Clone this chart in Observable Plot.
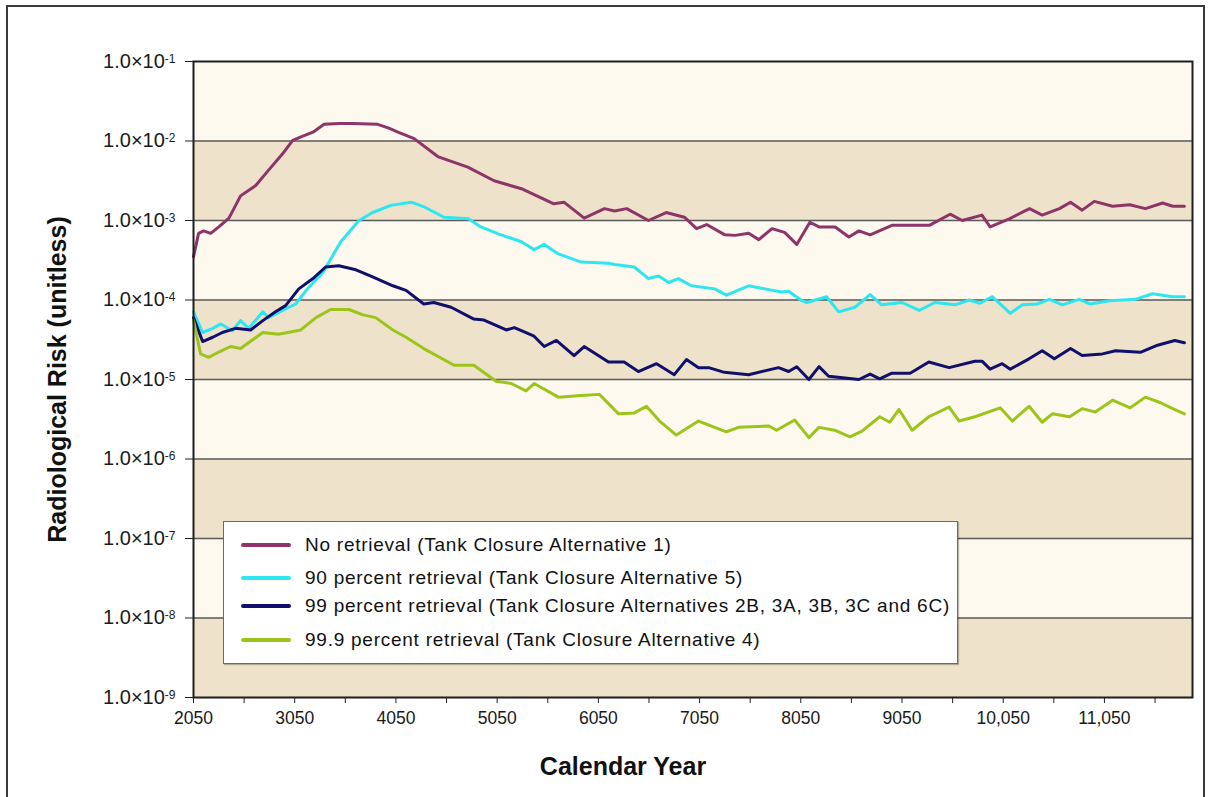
<!DOCTYPE html>
<html>
<head>
<meta charset="utf-8">
<script src="https://cdn.jsdelivr.net/npm/d3@7"></script>
<script src="https://cdn.jsdelivr.net/npm/@observablehq/plot@0.6"></script>
<style>
  html, body { margin: 0; padding: 0; background: #fff; }
  body { width: 1208px; height: 797px; position: relative; overflow: hidden; font-family: "Liberation Sans", Arial, sans-serif; }
  #chart { position: absolute; left: 0; top: 0; }
  #border { position: absolute; left: 6px; top: 5px; width: 1199px; height: 820px; border: 2px solid #3a3a3a; box-sizing: border-box; pointer-events: none; }
  #legend { position: absolute; left: 223px; top: 521px; width: 735px; height: 143px; background: #fff; border: 1.5px solid #6a6a6a; box-sizing: border-box; box-shadow: 1px 1px 1px rgba(0,0,0,0.25); }
  .item { position: absolute; left: 0; height: 24px; display: flex; align-items: center; font-size: 19px; letter-spacing: 0.75px; color: #111; white-space: nowrap; }
  .swatch { width: 50px; height: 4px; margin-left: 17px; margin-right: 14px; border-radius: 2px; }
</style>
</head>
<body>
<div id="chart"></div>
<div id="legend"></div>
<div id="border"></div>
<script>
// ---- Data ----
const seriesNames = [
  "No retrieval (Tank Closure Alternative 1)",
  "90 percent retrieval (Tank Closure Alternative 5)",
  "99 percent retrieval (Tank Closure Alternatives 2B, 3A, 3B, 3C and 6C)",
  "99.9 percent retrieval (Tank Closure Alternative 4)"
];
const seriesColors = ["#8d3468", "#2ee6f0", "#10106c", "#9cc41a"];

const noRetrievalYears = [2050,2100,2150,2220,2300,2400,2515,2665,2790,2930,3030,3130,3230,3340,3490,3620,3870,3980,4070,4230,4470,4760,5020,5290,5610,5710,5910,6110,6210,6330,6545,6720,6900,7020,7120,7300,7400,7535,7635,7765,7890,8010,8140,8230,8390,8525,8625,8735,8950,9320,9525,9645,9840,9920,10110,10310,10435,10605,10715,10830,10950,11130,11300,11455,11625,11725,11840];
const noRetrievalRisk = [3.5e-4,6.9e-4,7.4e-4,6.9e-4,8.3e-4,1.07e-3,2.04e-3,2.75e-3,4.27e-3,6.9e-3,1.02e-2,1.15e-2,1.29e-2,1.62e-2,1.66e-2,1.66e-2,1.62e-2,1.45e-2,1.29e-2,1.07e-2,6.3e-3,4.7e-3,3.16e-3,2.51e-3,1.62e-3,1.7e-3,1.07e-3,1.41e-3,1.32e-3,1.41e-3,1.0e-3,1.26e-3,1.1e-3,7.9e-4,8.9e-4,6.6e-4,6.5e-4,6.9e-4,5.75e-4,7.9e-4,7.1e-4,5.0e-4,9.5e-4,8.3e-4,8.3e-4,6.2e-4,7.4e-4,6.6e-4,8.7e-4,8.7e-4,1.2e-3,1.0e-3,1.17e-3,8.3e-4,1.05e-3,1.41e-3,1.17e-3,1.41e-3,1.7e-3,1.35e-3,1.74e-3,1.51e-3,1.58e-3,1.41e-3,1.66e-3,1.51e-3,1.51e-3];

const ninetyYears = [2050,2140,2240,2320,2435,2515,2595,2735,2790,2930,3060,3190,3330,3505,3685,3820,4000,4200,4330,4525,4765,4890,5060,5290,5415,5515,5655,5880,6150,6210,6405,6545,6645,6745,6840,6970,7200,7315,7535,7695,7860,7930,8060,8110,8305,8425,8585,8735,8850,9050,9220,9375,9575,9715,9820,9940,10120,10240,10385,10505,10635,10800,10910,11100,11355,11525,11725,11840];
const ninetyRisk = [7.1e-5,3.9e-5,4.4e-5,5.0e-5,4.1e-5,5.5e-5,4.4e-5,7.1e-5,6.0e-5,7.4e-5,8.9e-5,1.45e-4,2.24e-4,5.4e-4,1.0e-3,1.26e-3,1.55e-3,1.7e-3,1.48e-3,1.1e-3,1.05e-3,8.3e-4,6.8e-4,5.4e-4,4.3e-4,5.0e-4,3.8e-4,3.0e-4,2.9e-4,2.8e-4,2.6e-4,1.86e-4,2.0e-4,1.66e-4,1.86e-4,1.51e-4,1.38e-4,1.15e-4,1.51e-4,1.38e-4,1.26e-4,1.29e-4,9.8e-5,9.3e-5,1.1e-4,7.1e-5,8.1e-5,1.17e-4,8.7e-5,9.3e-5,7.4e-5,9.3e-5,8.7e-5,1.0e-4,9.1e-5,1.1e-4,6.8e-5,8.7e-5,8.9e-5,1.02e-4,8.7e-5,1.02e-4,8.9e-5,9.8e-5,1.02e-4,1.2e-4,1.1e-4,1.1e-4];

const ninetyNineYears = [2050,2140,2240,2335,2465,2615,2735,2860,2960,3090,3230,3355,3485,3655,3820,4020,4150,4325,4425,4595,4820,4920,5140,5220,5415,5515,5635,5810,5910,6150,6305,6445,6625,6800,6920,7040,7140,7295,7535,7830,7930,8010,8130,8230,8325,8625,8735,8830,8950,9130,9315,9515,9770,9840,9920,10040,10120,10305,10435,10555,10715,10830,11030,11160,11405,11575,11745,11840];
const ninetyNineRisk = [6.0e-5,3.0e-5,3.4e-5,3.9e-5,4.4e-5,4.2e-5,5.5e-5,7.1e-5,8.5e-5,1.38e-4,1.86e-4,2.6e-4,2.7e-4,2.4e-4,1.95e-4,1.51e-4,1.32e-4,8.9e-5,9.3e-5,8.1e-5,5.75e-5,5.6e-5,4.2e-5,4.5e-5,3.5e-5,2.6e-5,3.1e-5,2.0e-5,2.6e-5,1.66e-5,1.66e-5,1.26e-5,1.58e-5,1.15e-5,1.78e-5,1.41e-5,1.41e-5,1.23e-5,1.15e-5,1.41e-5,1.26e-5,1.45e-5,1.0e-5,1.45e-5,1.1e-5,1.0e-5,1.17e-5,1.02e-5,1.2e-5,1.2e-5,1.66e-5,1.41e-5,1.7e-5,1.7e-5,1.35e-5,1.58e-5,1.35e-5,1.82e-5,2.3e-5,1.82e-5,2.45e-5,2.0e-5,2.1e-5,2.3e-5,2.2e-5,2.7e-5,3.1e-5,2.9e-5];

const ninetyNinePointNineYears = [2050,2120,2200,2295,2415,2515,2735,2890,3110,3260,3405,3585,3725,3850,4020,4150,4325,4625,4820,5040,5190,5335,5415,5655,5880,6060,6250,6405,6525,6655,6820,7040,7315,7435,7735,7810,7990,8130,8230,8385,8535,8655,8830,8930,9020,9150,9315,9515,9615,9770,10020,10140,10305,10435,10535,10705,10830,10960,11130,11305,11455,11605,11725,11840];
const ninetyNinePointNineRisk = [5.5e-5,2.1e-5,1.9e-5,2.2e-5,2.6e-5,2.45e-5,3.9e-5,3.7e-5,4.2e-5,6.0e-5,7.6e-5,7.6e-5,6.5e-5,6.0e-5,4.2e-5,3.4e-5,2.45e-5,1.51e-5,1.51e-5,9.5e-6,8.9e-6,7.2e-6,8.9e-6,6.0e-6,6.3e-6,6.5e-6,3.7e-6,3.8e-6,4.6e-6,3.0e-6,2.0e-6,3.0e-6,2.2e-6,2.5e-6,2.6e-6,2.3e-6,3.1e-6,1.86e-6,2.5e-6,2.3e-6,1.9e-6,2.24e-6,3.4e-6,2.9e-6,4.2e-6,2.3e-6,3.4e-6,4.5e-6,3.0e-6,3.4e-6,4.4e-6,3.0e-6,4.6e-6,2.9e-6,3.7e-6,3.4e-6,4.3e-6,3.9e-6,5.5e-6,4.4e-6,6.0e-6,5.1e-6,4.3e-6,3.7e-6];

const yTicks = [1e-1,1e-2,1e-3,1e-4,1e-5,1e-6,1e-7,1e-8,1e-9];
const xLabelTicks = [2050,3050,4050,5050,6050,7050,8050,9050,10050,11050];
const xMinorTicks = [2550,3550,4550,5550,6550,7550,8550,9550,10550,11550];
const xDomain = [2050, 11920];
const bandColors = ["#fdf9ee", "#eee3ca"];

// ---- Build tables ----
const allYears = [noRetrievalYears, ninetyYears, ninetyNineYears, ninetyNinePointNineYears];
const allRisk = [noRetrievalRisk, ninetyRisk, ninetyNineRisk, ninetyNinePointNineRisk];
const rows = [];
allYears.forEach((ys, i) => ys.forEach((y, j) => rows.push({series: seriesNames[i], year: y, risk: allRisk[i][j]})));
const bands = yTicks.slice(0, -1).map((t, i) => ({top: t, bottom: yTicks[i + 1], fill: bandColors[i % 2]}));

const fmtYear = d => d >= 10000 ? d3.format(",")(d) : String(d);

const chart = Plot.plot({
  width: 1208,
  height: 797,
  marginLeft: 193,
  marginRight: 16,
  marginTop: 61,
  marginBottom: 100,
  style: {fontFamily: "'Liberation Sans', Arial, sans-serif", background: "transparent", color: "#222"},
  x: {domain: xDomain},
  y: {type: "log", domain: [1e-9, 1e-1]},
  color: {domain: seriesNames, range: seriesColors},
  marks: [
    Plot.rect(bands, {x1: xDomain[0], x2: xDomain[1], y1: "bottom", y2: "top", fill: "fill"}),
    Plot.ruleY(yTicks.slice(1, -1), {stroke: "#5a5a5a", strokeWidth: 1.6}),
    Plot.line(rows, {x: "year", y: "risk", z: "series", stroke: "series", strokeWidth: 3, strokeLinejoin: "round", strokeLinecap: "round"}),
    Plot.frame({stroke: "#1e1e1e", strokeWidth: 2}),
    Plot.axisY({ticks: yTicks, tickSize: 8, tickPadding: 10, tickFormat: d => "1.0×10^" + Math.round(Math.log10(d)), label: null, stroke: "#222"}),
    Plot.axisX({ticks: xLabelTicks, tickSize: 6, tickPadding: 8, tickFormat: fmtYear, label: null, stroke: "#222"}),
    Plot.axisX({ticks: xMinorTicks, tickSize: 6, tickFormat: () => "", label: null, stroke: "#222"}),
    Plot.text(["Radiological Risk (unitless)"], {frameAnchor: "left", dx: -136, rotate: -90, fontSize: 25, fontWeight: "bold", fill: "#111", textAnchor: "middle"}),
    Plot.text(["Calendar Year"], {frameAnchor: "bottom", dx: -70, dy: 77, fontSize: 25, fontWeight: "bold", fill: "#111", textAnchor: "middle"})
  ]
});

// tick label sizes and superscript exponents
const ns = "http://www.w3.org/2000/svg";
chart.querySelectorAll('[aria-label="x-axis tick label"] text').forEach(t => { t.style.fontSize = "17.5px"; t.style.fill = "#1a1a1a"; });
chart.querySelectorAll('[aria-label="y-axis tick label"] text').forEach(t => {
  t.style.fontSize = "20px";
  t.style.fill = "#1a1a1a";
  const parts = t.textContent.split("^");
  if (parts.length !== 2) return;
  t.textContent = parts[0];
  const ts = document.createElementNS(ns, "tspan");
  ts.setAttribute("dy", "-0.45em");
  ts.style.fontSize = "12px";
  ts.textContent = parts[1];
  t.appendChild(ts);
});

document.getElementById("chart").appendChild(chart);

// legend
const legendTops = [23, 56, 84, 118];
const legend = document.getElementById("legend");
seriesNames.forEach((name, i) => {
  const item = document.createElement("div");
  item.className = "item";
  item.style.top = (legendTops[i] - 12) + "px";
  const sw = document.createElement("span");
  sw.className = "swatch";
  sw.style.background = seriesColors[i];
  const label = document.createElement("span");
  label.textContent = name;
  item.appendChild(sw);
  item.appendChild(label);
  legend.appendChild(item);
});
</script>
</body>
</html>
